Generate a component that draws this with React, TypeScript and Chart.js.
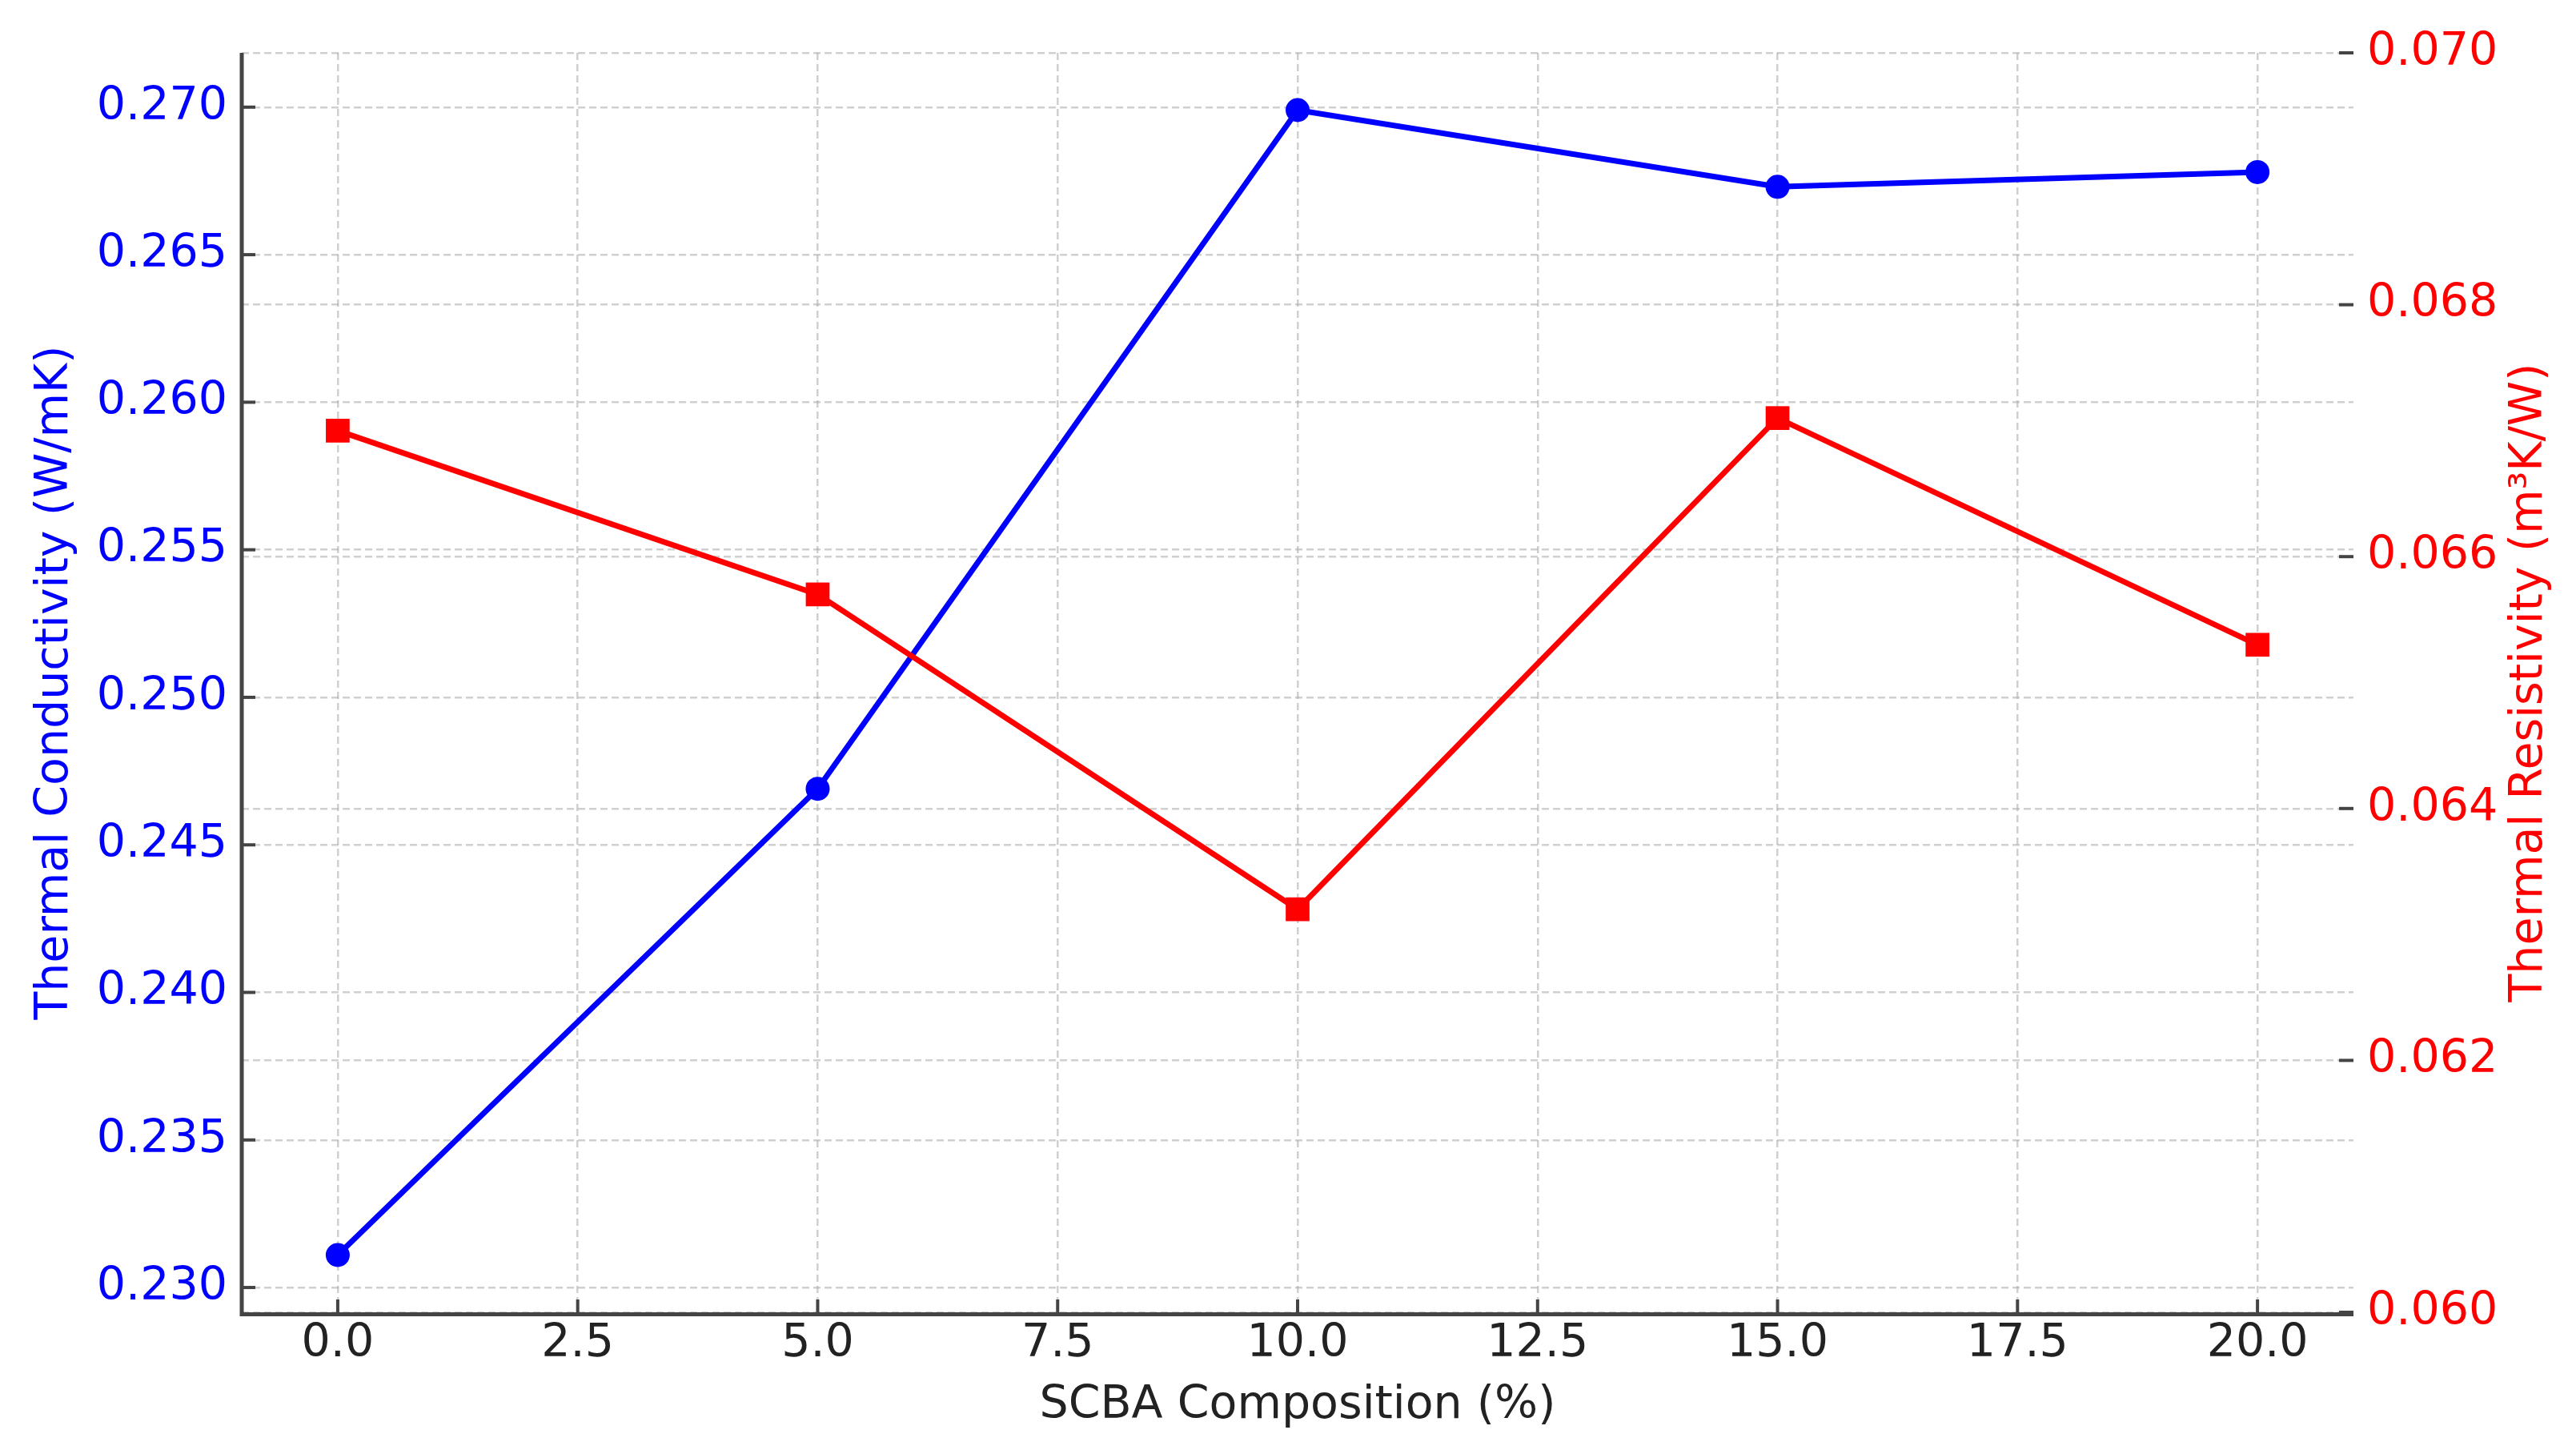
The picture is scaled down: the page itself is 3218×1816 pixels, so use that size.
import React, { useEffect, useRef } from "react";
import { Chart, registerables } from "chart.js";

Chart.register(...registerables);

// ---- data ----
const composition = [0, 5, 10, 15, 20];
const conductivity = [0.2311, 0.2469, 0.2699, 0.2673, 0.2678];
const resistivity = [0.067, 0.0657, 0.0632, 0.0671, 0.0653];

// ---- tick labels ----
const xTicks = [0, 2.5, 5, 7.5, 10, 12.5, 15, 17.5, 20];
const leftTicks = [0.23, 0.235, 0.24, 0.245, 0.25, 0.255, 0.26, 0.265, 0.27];
const rightTicks = [0.06, 0.062, 0.064, 0.066, 0.068, 0.07];

const xTitle = "SCBA Composition (%)";
const leftTitle = "Thermal Conductivity (W/mK)";
const rightTitle = "Thermal Resistivity (m³K/W)";

const W = 3218;
const H = 1816;
const FONT = "'DejaVu Sans', 'Liberation Sans', sans-serif";
const TICK_SIZE = 57;
const TITLE_SIZE = 57;

function padded(vals: number[], frac = 0.05) {
  const mn = Math.min(...vals);
  const mx = Math.max(...vals);
  const r = mx - mn;
  return { min: mn - r * frac, max: mx + r * frac };
}

const spinesAndTicks = {
  id: "spinesAndTicks",
  afterDraw(chart: any) {
    const ctx = chart.ctx;
    const { left, right, top, bottom } = chart.chartArea;
    ctx.save();
    ctx.strokeStyle = "#444444";
    ctx.lineWidth = 4;
    const xs = chart.scales.x;
    xs.ticks.forEach((t: any) => {
      const px = xs.getPixelForValue(t.value);
      ctx.beginPath();
      ctx.moveTo(px, bottom);
      ctx.lineTo(px, bottom - 16);
      ctx.stroke();
    });
    const ys = chart.scales.y;
    ys.ticks.forEach((t: any) => {
      const py = ys.getPixelForValue(t.value);
      ctx.beginPath();
      ctx.moveTo(left, py);
      ctx.lineTo(left + 17, py);
      ctx.stroke();
    });
    const y1 = chart.scales.y1;
    y1.ticks.forEach((t: any) => {
      const py = y1.getPixelForValue(t.value);
      ctx.beginPath();
      ctx.moveTo(right, py);
      ctx.lineTo(right - 18, py);
      ctx.stroke();
    });
    // spines: left and bottom
    ctx.lineWidth = 5;
    ctx.beginPath();
    ctx.moveTo(left, top);
    ctx.lineTo(left, bottom + 2.5);
    ctx.lineTo(right, bottom + 2.5);
    ctx.stroke();

    // right axis title, reading bottom-to-top
    ctx.translate(3160, (top + bottom) / 2);
    ctx.rotate(-Math.PI / 2);
    ctx.fillStyle = "#ff0000";
    ctx.font = `${TITLE_SIZE}px ${FONT}`;
    ctx.textAlign = "center";
    ctx.textBaseline = "middle";
    ctx.fillText(rightTitle, 0, 0);
    ctx.restore();
  },
};

export default function App() {
  const ref = useRef<HTMLCanvasElement | null>(null);

  useEffect(() => {
    if (!ref.current) return;
    const xr = padded(composition);
    const lr = padded(conductivity);
    const gridColor = "rgba(170,170,170,0.55)";
    const dash = [9, 5];

    const chart = new Chart(ref.current, {
      type: "line",
      data: {
        datasets: [
          {
            label: "Thermal Conductivity",
            data: composition.map((x, i) => ({ x, y: conductivity[i] })),
            yAxisID: "y",
            borderColor: "#0000ff",
            backgroundColor: "#0000ff",
            borderWidth: 7,
            pointStyle: "circle",
            pointRadius: 15,
            pointBorderWidth: 0,
            tension: 0,
            order: 1,
          },
          {
            label: "Thermal Resistivity",
            data: composition.map((x, i) => ({ x, y: resistivity[i] })),
            yAxisID: "y1",
            borderColor: "#ff0000",
            backgroundColor: "#ff0000",
            borderWidth: 7,
            pointStyle: "rect",
            pointRadius: 21,
            pointBorderWidth: 0,
            tension: 0,
            order: 0,
          },
        ],
      },
      options: {
        responsive: false,
        animation: false,
        layout: { padding: { top: 66, left: 0, right: 0, bottom: 0 } },
        plugins: {
          legend: { display: false },
          tooltip: { enabled: false },
          title: { display: false },
        },
        scales: {
          x: {
            type: "linear",
            position: "bottom",
            min: xr.min,
            max: xr.max,
            afterBuildTicks: (s: any) => {
              s.ticks = xTicks.map((v) => ({ value: v }));
            },
            afterFit: (s: any) => {
              s.height = 177;
            },
            ticks: {
              color: "#222222",
              font: { family: FONT, size: TICK_SIZE },
              padding: 6,
              maxRotation: 0,
              autoSkip: false,
              callback: (v: any) => Number(v).toFixed(1),
            },
            grid: { color: gridColor, lineWidth: 2.5, drawTicks: false },
            border: { display: false, dash },
            title: {
              display: true,
              text: xTitle,
              color: "#222222",
              font: { family: FONT, size: TITLE_SIZE },
              padding: { top: 0, bottom: 26 },
            },
          },
          y: {
            type: "linear",
            position: "left",
            min: lr.min,
            max: lr.max,
            afterBuildTicks: (s: any) => {
              s.ticks = leftTicks.map((v) => ({ value: v }));
            },
            afterFit: (s: any) => {
              s.width = 302;
            },
            ticks: {
              color: "#0000ff",
              font: { family: FONT, size: TICK_SIZE },
              padding: 18,
              autoSkip: false,
              callback: (v: any) => Number(v).toFixed(3),
            },
            grid: { color: gridColor, lineWidth: 2.5, drawTicks: false },
            border: { display: false, dash },
            title: {
              display: true,
              text: leftTitle,
              color: "#0000ff",
              font: { family: FONT, size: TITLE_SIZE },
              padding: { top: 35, bottom: 0 },
            },
          },
          y1: {
            type: "linear",
            position: "right",
            min: 0.06,
            max: 0.07,
            afterBuildTicks: (s: any) => {
              s.ticks = rightTicks.map((v) => ({ value: v }));
            },
            afterFit: (s: any) => {
              s.width = 278;
            },
            ticks: {
              color: "#ff0000",
              font: { family: FONT, size: TICK_SIZE },
              padding: 17,
              autoSkip: false,
              callback: (v: any) => Number(v).toFixed(3),
            },
            grid: { color: gridColor, lineWidth: 2.5, drawTicks: false },
            border: { display: false, dash },
            title: { display: false },
          },
        },
      },
      plugins: [spinesAndTicks],
    });
    return () => chart.destroy();
  }, []);

  return (
    <div
      style={{
        position: "fixed",
        left: 0,
        top: 0,
        width: W + "px",
        height: H + "px",
        background: "#ffffff",
      }}
    >
      <canvas ref={ref} width={W} height={H} style={{ display: "block" }} />
    </div>
  );
}
